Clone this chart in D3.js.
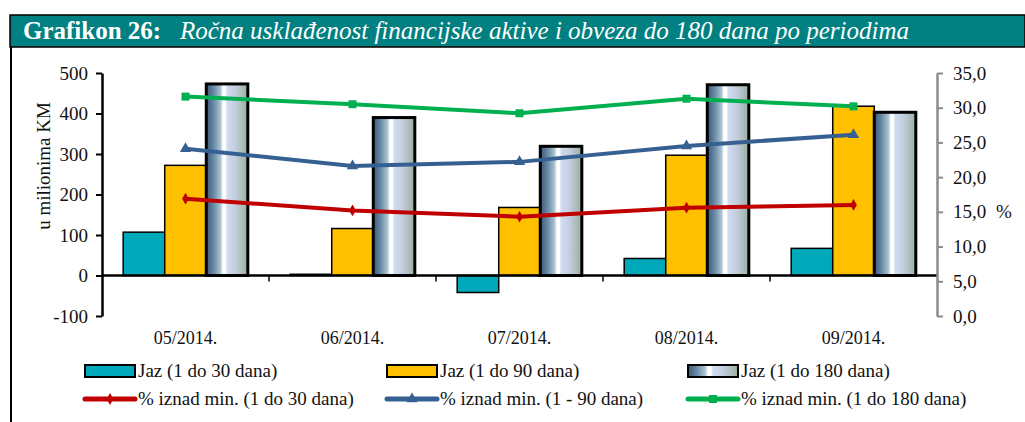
<!DOCTYPE html>
<html>
<head>
<meta charset="utf-8">
<script src="https://cdn.jsdelivr.net/npm/d3@7"></script>
<style>
  html, body { margin: 0; padding: 0; background: #fff; }
  svg { display: block; }
</style>
</head>
<body>
<div id="chart"></div>
<script>
// Ročna usklađenost – bars on left axis (mil. KM), lines on right axis (%)

const categories = ["05/2014.", "06/2014.", "07/2014.", "08/2014.", "09/2014."];

const gap30  = [107, 3, -42, 42, 67];
const gap90  = [272, 116, 168, 297, 418];
const gap180 = [473, 390, 319, 471, 403];

const pct30  = [16.9, 15.2, 14.3, 15.6, 16.0];
const pct90  = [24.1, 21.6, 22.2, 24.5, 26.1];
const pct180 = [31.6, 30.5, 29.2, 31.3, 30.2];

const leftTicks  = [-100, 0, 100, 200, 300, 400, 500];
const rightTicks = [0, 5, 10, 15, 20, 25, 30, 35];

const barSeries = [
  { key: "g30",  label: "Jaz (1 do 30 dana)",  values: gap30,  fill: "#00A9BA" },
  { key: "g90",  label: "Jaz (1 do 90 dana)",  values: gap90,  fill: "#FFC000" },
  { key: "g180", label: "Jaz (1 do 180 dana)", values: gap180, fill: "url(#cyl)" },
];

const lineSeries = [
  { label: "% iznad min. (1 do 30 dana)",  values: pct30,  color: "#C00000", marker: d3.symbolDiamond,  size: 40 },
  { label: "% iznad min. (1 - 90 dana)",   values: pct90,  color: "#376092", marker: d3.symbolTriangle, size: 55 },
  { label: "% iznad min. (1 do 180 dana)", values: pct180, color: "#00B050", marker: d3.symbolSquare,   size: 64 },
];

const W = 1025, H = 422;
const FONT = "'Liberation Serif', 'Times New Roman', serif";
const plot = { left: 102, right: 937, top: 73, bottom: 316 };

const svg = d3.select("#chart").append("svg")
  .attr("width", W).attr("height", H)
  .attr("viewBox", `0 0 ${W} ${H}`);

// cylinder-ish gradient for the 180-day bars
const defs = svg.append("defs");
const grad = defs.append("linearGradient").attr("id", "cyl")
  .attr("x1", "0%").attr("x2", "100%").attr("y1", "0%").attr("y2", "0%");
[
  ["0%",   "#3b5878"],
  ["18%",  "#6a8aa6"],
  ["34%",  "#a9c4d0"],
  ["40%",  "#ffffff"],
  ["46%",  "#ffffff"],
  ["50%",  "#d2dcf2"],
  ["70%",  "#c3cedf"],
  ["100%", "#9bae9e"],
].forEach(([o, c]) => grad.append("stop").attr("offset", o).attr("stop-color", c));

// frame + title bar
svg.append("line")
  .attr("x1", 11).attr("x2", 11).attr("y1", 15).attr("y2", H)
  .attr("stroke", "#000").attr("stroke-width", 2);

svg.append("rect")
  .attr("x", 10).attr("y", 15).attr("width", W - 10).attr("height", 32)
  .attr("fill", "#008080").attr("stroke", "#000").attr("stroke-width", 1.5);

svg.append("text")
  .attr("x", 23).attr("y", 39)
  .attr("fill", "#fff")
  .attr("font-family", FONT)
  .attr("font-size", "25px")
  .attr("font-weight", "bold")
  .text("Grafikon 26:");

svg.append("text")
  .attr("x", 180).attr("y", 39)
  .attr("fill", "#fff")
  .attr("font-family", FONT)
  .attr("font-size", "25px")
  .attr("font-style", "italic")
  .text("Ročna usklađenost financijske aktive i obveza do 180 dana po periodima");

// scales
const x0 = d3.scaleBand()
  .domain(categories)
  .range([plot.left, plot.right])
  .paddingInner(0).paddingOuter(0);

const x1 = d3.scaleBand()
  .domain(barSeries.map(s => s.key))
  .range([0, x0.bandwidth()])
  .paddingInner(0).paddingOuter(0.51);

const yL = d3.scaleLinear().domain([-100, 500]).range([plot.bottom, plot.top]);
const yR = d3.scaleLinear().domain([0, 35]).range([plot.bottom, plot.top]);

// bars
const g = svg.append("g");

barSeries.forEach(s => {
  const isCyl = s.key === "g180";
  g.selectAll(`.bar-${s.key}`)
    .data(categories.map((c, i) => ({ c, v: s.values[i] })))
    .join("rect")
      .attr("class", `bar-${s.key}`)
      .attr("x", d => x0(d.c) + x1(s.key))
      .attr("width", x1.bandwidth())
      .attr("y", d => yL(Math.max(0, d.v)))
      .attr("height", d => Math.abs(yL(d.v) - yL(0)))
      .attr("fill", s.fill)
      .attr("stroke", "#000")
      .attr("stroke-width", isCyl ? 3 : 1.5);
});

// zero line
g.append("line")
  .attr("x1", plot.left).attr("x2", plot.right)
  .attr("y1", yL(0)).attr("y2", yL(0))
  .attr("stroke", "#000").attr("stroke-width", 2.5);

// category boundary ticks below the zero line
g.selectAll(".cat-tick")
  .data(categories.slice(1))
  .join("line")
    .attr("class", "cat-tick")
    .attr("x1", d => x0(d)).attr("x2", d => x0(d))
    .attr("y1", yL(0)).attr("y2", yL(0) + 6)
    .attr("stroke", "#000").attr("stroke-width", 1.5);

// category labels
g.selectAll(".cat-label")
  .data(categories)
  .join("text")
    .attr("class", "cat-label")
    .attr("x", d => x0(d) + x0.bandwidth() / 2)
    .attr("y", 344)
    .attr("text-anchor", "middle")
    .attr("font-family", FONT)
    .attr("font-size", "18px")
    .attr("fill", "#111")
    .text(d => d);

// left axis (plain hyphen for negatives, as in the source)
const leftAxis = svg.append("g")
  .attr("transform", `translate(${plot.left},0)`)
  .call(d3.axisLeft(yL).tickValues(leftTicks).tickFormat(d => String(d))
    .tickSize(6).tickPadding(8).tickSizeOuter(0));
leftAxis.select(".domain").attr("stroke", "#000").attr("stroke-width", 2.5);
leftAxis.selectAll(".tick line").attr("stroke", "#000").attr("stroke-width", 2);
leftAxis.selectAll("text")
  .attr("font-family", FONT).attr("font-size", "19px").attr("fill", "#111");

svg.append("text")
  .attr("transform", "rotate(-90)")
  .attr("x", -166).attr("y", 50)
  .attr("text-anchor", "middle")
  .attr("font-family", FONT).attr("font-size", "19px").attr("fill", "#111")
  .text("u milionima KM");

// right axis
const fmtR = d => d.toFixed(1).replace(".", ",");
const rightAxis = svg.append("g")
  .attr("transform", `translate(${plot.right},0)`)
  .call(d3.axisRight(yR).tickValues(rightTicks).tickFormat(fmtR).tickSize(6).tickPadding(10).tickSizeOuter(0));
rightAxis.select(".domain").attr("stroke", "#8c8c8c").attr("stroke-width", 2.5);
rightAxis.selectAll(".tick line").attr("stroke", "#8c8c8c").attr("stroke-width", 2);
rightAxis.selectAll("text")
  .attr("font-family", FONT).attr("font-size", "19px").attr("fill", "#111");

svg.append("text")
  .attr("x", 996).attr("y", yR(15) + 6)
  .attr("font-family", FONT).attr("font-size", "19px").attr("fill", "#111")
  .text("%");

// lines
const cx = i => x0(categories[i]) + x0.bandwidth() / 2;

lineSeries.forEach(s => {
  const lineFn = d3.line()
    .x((d, i) => cx(i))
    .y(d => yR(d));

  g.append("path")
    .datum(s.values)
    .attr("d", lineFn)
    .attr("fill", "none")
    .attr("stroke", s.color)
    .attr("stroke-width", 4)
    .attr("stroke-linejoin", "round");

  g.selectAll(null)
    .data(s.values)
    .join("path")
      .attr("transform", (d, i) => `translate(${cx(i)},${yR(d)})`)
      .attr("d", d3.symbol().type(s.marker).size(s.size))
      .attr("fill", s.color);
});

// legend
const legendRows = [
  { y: 371, items: barSeries.map(s => ({ kind: "bar", s })) },
  { y: 399, items: lineSeries.map(s => ({ kind: "line", s })) },
];
const legendX = [85, 387, 688];

legendRows.forEach(row => {
  row.items.forEach((it, i) => {
    const lx = legendX[i];
    const lg = svg.append("g").attr("transform", `translate(${lx},${row.y})`);
    if (it.kind === "bar") {
      lg.append("rect")
        .attr("x", 0).attr("y", -6).attr("width", 50).attr("height", 12)
        .attr("fill", it.s.fill)
        .attr("stroke", "#000").attr("stroke-width", 2);
    } else {
      lg.append("line")
        .attr("x1", 0).attr("x2", 50).attr("y1", 0).attr("y2", 0)
        .attr("stroke", it.s.color).attr("stroke-width", 5)
        .attr("stroke-linecap", "round");
      lg.append("path")
        .attr("transform", "translate(25,0)")
        .attr("d", d3.symbol().type(it.s.marker).size(it.s.size))
        .attr("fill", it.s.color);
    }
    lg.append("text")
      .attr("x", 53).attr("y", 6)
      .attr("font-family", FONT).attr("font-size", "19px").attr("fill", "#111")
      .text(it.s.label);
  });
});
</script>
</body>
</html>
